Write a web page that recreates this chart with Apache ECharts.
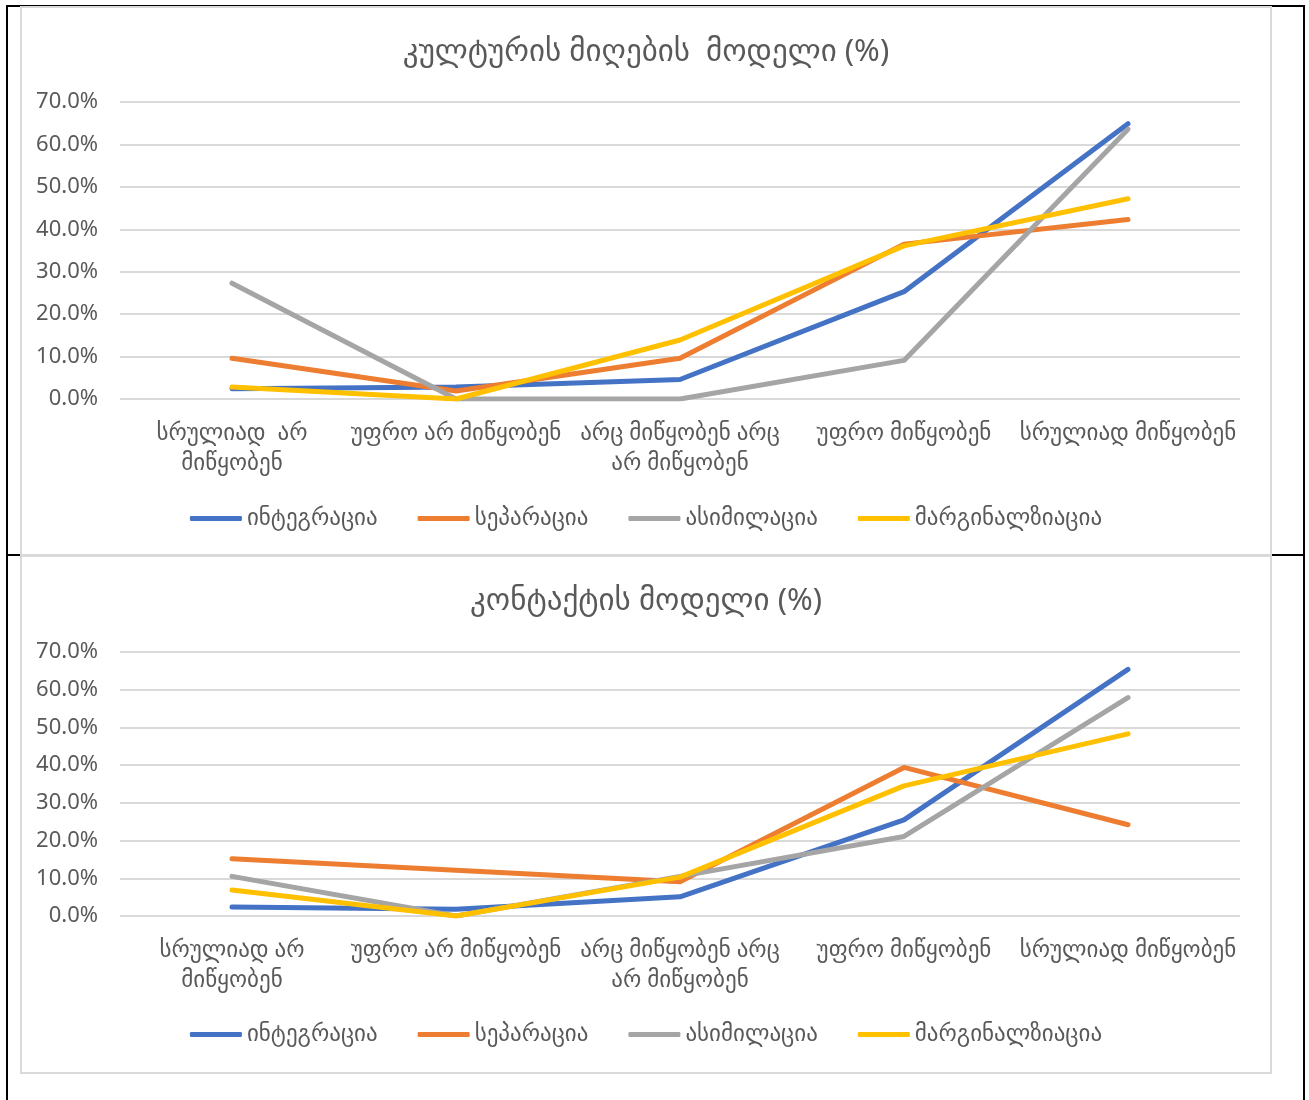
<!DOCTYPE html>
<html>
<head>
<meta charset="utf-8">
<script src="https://cdn.jsdelivr.net/npm/echarts@6/dist/echarts.min.js"></script>
<style>
  body { margin: 0; background: #fff; width: 1309px; height: 1100px; position: relative; overflow: hidden; }
  .table { position: absolute; left: 6px; top: 5px; width: 1295px; height: 1200px; border: 2px solid #000; }
  .rowline { position: absolute; left: 6px; top: 554px; width: 1297px; height: 2px; background: #000; }
  .box { position: absolute; left: 20px; width: 1248px; background: #fff; border: 2px solid #d9d9d9; }
  #chart1 { top: 6px; height: 546px; }
  #chart2 { top: 555px; height: 515px; }
</style>
</head>
<body>
<div class="table"></div>
<div class="rowline"></div>
<div class="box" id="chart1"></div>
<div class="box" id="chart2"></div>
<script>
// categories (x axis)
const categories1 = ["სრულიად  არ\nმიწყობენ", "უფრო არ მიწყობენ", "არც მიწყობენ არც\nარ მიწყობენ", "უფრო მიწყობენ", "სრულიად მიწყობენ"];
const categories2 = ["სრულიად არ\nმიწყობენ", "უფრო არ მიწყობენ", "არც მიწყობენ არც\nარ მიწყობენ", "უფრო მიწყობენ", "სრულიად მიწყობენ"];
const seriesNames = ["ინტეგრაცია", "სეპარაცია", "ასიმილაცია", "მარგინალზიაცია"];
const colors = ["#4472C4", "#ED7D31", "#A5A5A5", "#FFC000"];

// კულტურის მიღების მოდელი (%)
const culture = {
  integration: [2.4, 2.8, 4.6, 25.3, 64.9],
  separation: [9.6, 1.9, 9.6, 36.5, 42.3],
  assimilation: [27.3, 0, 0, 9.1, 63.6],
  marginalization: [2.8, 0, 13.9, 36.1, 47.2]
};
// კონტაქტის მოდელი (%)
const contact = {
  integration: [2.4, 1.8, 5.1, 25.5, 65.4],
  separation: [15.2, 12.1, 9.1, 39.4, 24.2],
  assimilation: [10.5, 0, 10.5, 21.1, 57.9],
  marginalization: [6.9, 0, 10.3, 34.5, 48.3]
};

const yTicks = { min: 0, max: 70, interval: 10 };
const font = '"Noto Sans", "DejaVu Sans", sans-serif';

function buildOption(title, cats, d, gridTop, gridBottom, legendTop) {
  const values = [d.integration, d.separation, d.assimilation, d.marginalization];
  return {
    animation: false,
    title: {
      text: title,
      left: "center",
      top: 24,
      textStyle: { fontFamily: font, fontSize: 31, fontWeight: "normal", color: "#595959" }
    },
    legend: {
      top: legendTop,
      left: "center",
      icon: "roundRect",
      itemWidth: 52,
      itemHeight: 5,
      itemGap: 40,
      textStyle: { fontFamily: font, fontSize: 23, color: "#595959" },
      data: seriesNames
    },
    grid: { left: 98, right: 30, top: gridTop, bottom: gridBottom },
    xAxis: {
      type: "category",
      data: cats,
      boundaryGap: true,
      axisLine: { show: false },
      axisTick: { show: false },
      axisLabel: { interval: 0, margin: 19, fontFamily: font, fontSize: 23, lineHeight: 30, color: "#595959" }
    },
    yAxis: {
      type: "value",
      min: yTicks.min,
      max: yTicks.max,
      interval: yTicks.interval,
      axisLabel: { margin: 22, fontFamily: font, fontSize: 22, color: "#595959", formatter: v => v.toFixed(1) + "%" },
      splitLine: { lineStyle: { color: "#d9d9d9", width: 2 } }
    },
    series: values.map((v, i) => ({
      name: seriesNames[i],
      type: "line",
      data: v,
      showSymbol: false,
      symbol: "none",
      color: colors[i],
      lineStyle: { width: 5, color: colors[i], cap: "round", join: "round" }
    }))
  };
}

echarts.init(document.getElementById("chart1")).setOption(
  buildOption("კულტურის მიღების  მოდელი (%)", categories1, culture, 94, 155, 494)
);
echarts.init(document.getElementById("chart2")).setOption(
  buildOption("კონტაქტის მოდელი (%)", categories2, contact, 95, 156, 461)
);
</script>
</body>
</html>
